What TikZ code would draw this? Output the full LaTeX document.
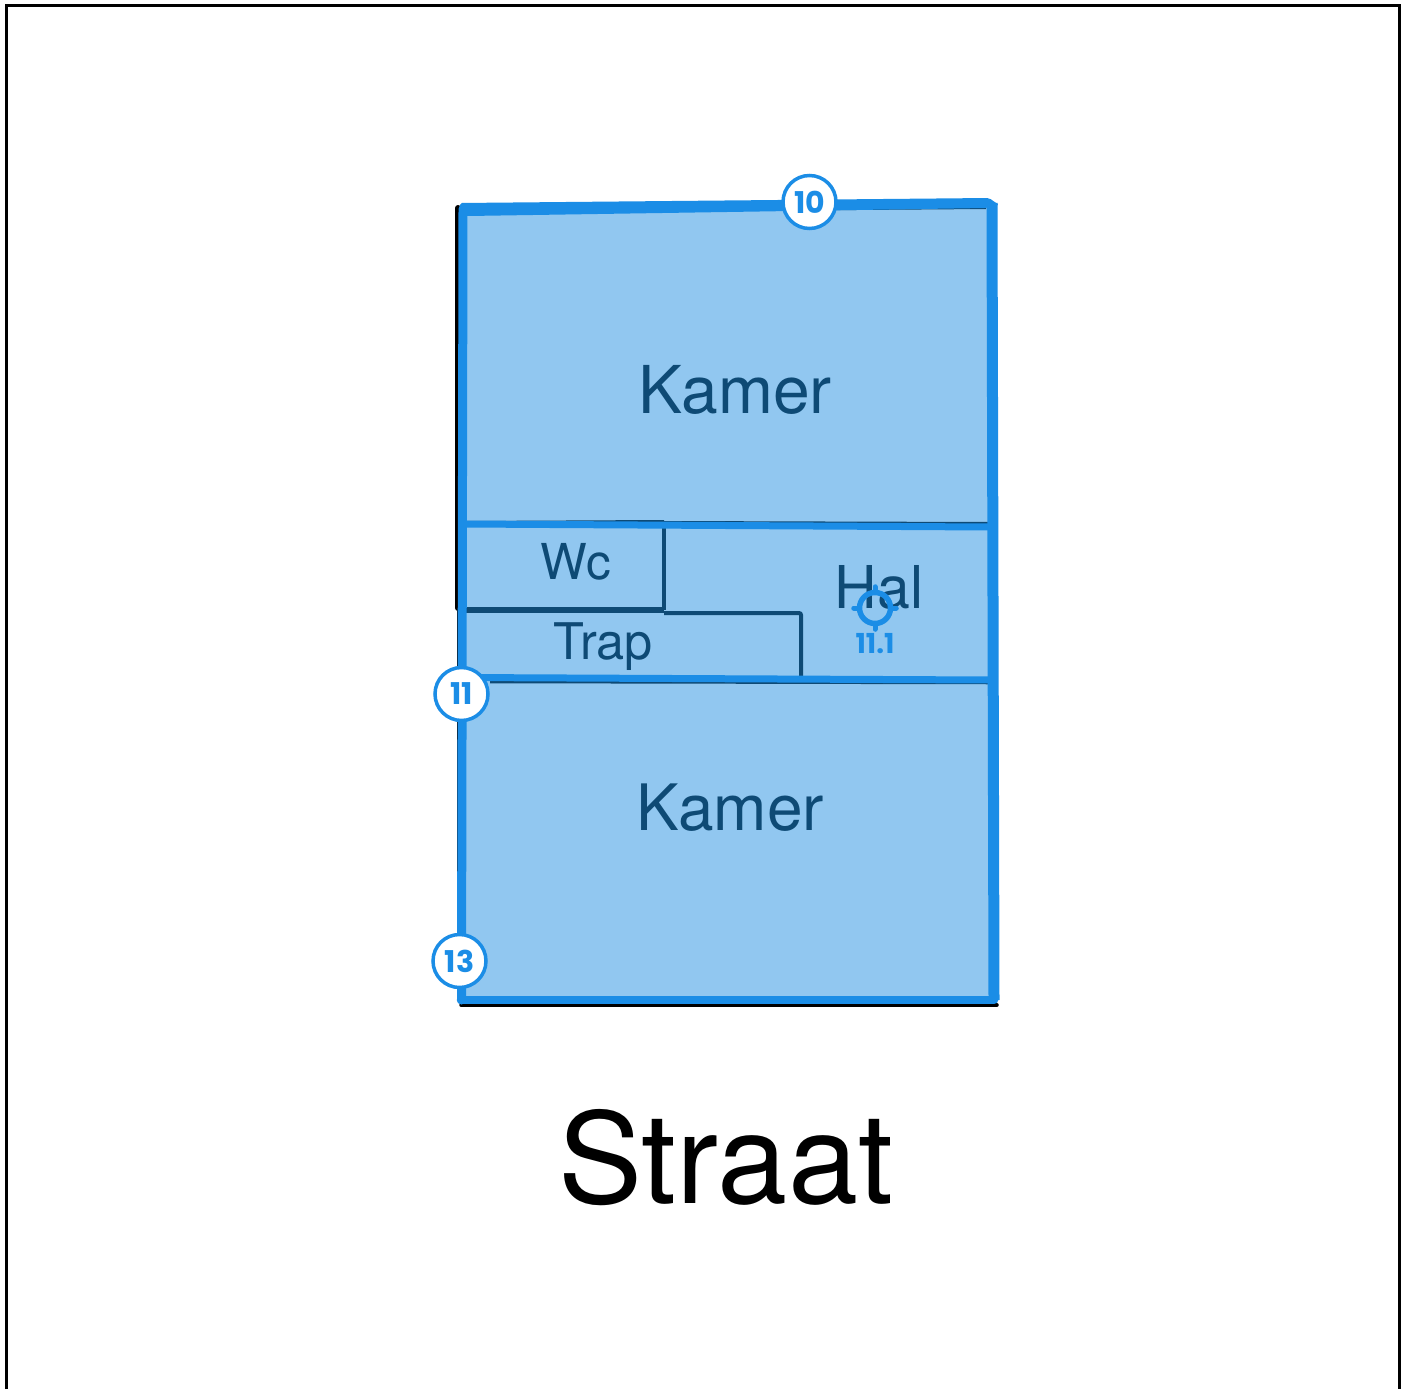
\documentclass[tikz,border=0pt]{standalone}
\usepackage{fontspec}
\setmainfont{TeX Gyre Heros}
\newfontfamily\badgefont{Poppins}
\definecolor{roomfill}{HTML}{91C7F0}
\definecolor{wallblue}{HTML}{1B8DE6}
\definecolor{walldark}{HTML}{0E4A75}
\newcommand{\fsz}[1]{\fontsize{#1}{#1}\selectfont}
\tikzset{
  frameline/.style={draw=black,line width=3pt},
  inkline/.style={draw=black,line width=6pt,line cap=round},
  innerwall/.style={draw=wallblue,line width=7pt},
  darkwall/.style={draw=walldark,line width=4.5pt},
  roomtext/.style={text=walldark,inner sep=0pt,anchor=base},
  badge/.style={circle,draw=wallblue,fill=white,line width=3.5pt,minimum size=53pt,inner sep=0pt,text=wallblue,font=\badgefont\bfseries\fsz{30}},
}
\begin{document}
\begin{tikzpicture}[x=1pt,y=-1pt]
\useasboundingbox (0,0) rectangle (1405,1389);
\fill[white] (0,0) rectangle (1405,1389);
% frame
\draw[frameline] (6.5,1389) -- (6.5,5.5) -- (1399.5,5.5) -- (1399.5,1389);
% pencil lines under the overlay
\draw[inkline] (458,208) -- (458,608);
\draw[draw=black,line width=3pt] (458.5,608) -- (458.5,1000);
\draw[draw=black,line width=3.5pt,line cap=round] (461,1005) -- (997,1005);
% rooms
\coordinate (tl) at (463,209);
\coordinate (tr) at (992,203);
\coordinate (br) at (994,1000);
\coordinate (bl) at (461,1000);
\fill[roomfill] (tl) -- (tr) -- (br) -- (bl) -- cycle;
% dark partitions
\coordinate (wcl) at (465,610);
\coordinate (wcr) at (664,610);
\coordinate (wct) at (664,524);
\coordinate (trapm) at (801,613);
\coordinate (trapb) at (801,677);
\draw[draw=walldark,line width=6.5pt] (wcl) -- (wcr);
\draw[darkwall] (wct) -- (wcr);
\draw[draw=walldark,line width=4pt,rounded corners=2pt] (wcr |- trapm) -- (trapm) -- (trapb);
\draw[draw=walldark,line width=2.5pt] (490,682) -- (990,683);
\draw[draw=walldark,line width=2pt] (664,522) -- (990,523);
\draw[draw=walldark,line width=2pt] (466,522) -- (664,521);
\draw[draw=walldark,line width=2pt] (466,212) -- (986,208);
% blue walls
\draw[innerwall] (463,524) -- (990,527);
\draw[innerwall] (463,677.5) -- (990,680);
\draw[draw=wallblue,line width=9pt,line cap=round] (463,209) -- (461.5,1000);
\draw[draw=wallblue,line width=8.5pt,line cap=round] (461,1000) -- (994,1000);
\draw[draw=wallblue,line width=11pt] (992,203) -- (994,1000);
\fill[wallblue,rounded corners=2pt] (460,203) -- (989,198) -- (999,205) -- (986,208) -- (468,216) -- (459,216) -- cycle;
% labels
\node[roomtext] (kamer1) at (735,413.5) {\fsz{66}Kamer};
\node[roomtext] (kamer2) at (730,830) {\fsz{64}Kamer};
\node[roomtext] (wc) at (576,579) {\fsz{49.5}Wc};
\node[roomtext] (trap) at (603.5,659.5) {\fsz{50.5}Trap};
\node[roomtext] (hal) at (879,608) {\fsz{59}Hal};
\node[inner sep=0pt,anchor=base,text=black] (straat) at (725.5,1203) {\fsz{126}Straat};
% crosshair
\node[circle,draw=wallblue,line width=5.5pt,minimum size=31pt,inner sep=0pt] (aim) at (875,608) {};
\draw[draw=wallblue,line width=5pt,line cap=round] (aim.north) -- ++(0,-3);
\draw[draw=wallblue,line width=5pt,line cap=round] (aim.south) -- ++(0,3);
\draw[draw=wallblue,line width=5pt,line cap=round] (aim.west) -- ++(-3,0);
\draw[draw=wallblue,line width=5pt,line cap=round] (aim.east) -- ++(3,0);
\node[inner sep=0pt,text=wallblue,font=\badgefont\bfseries\fsz{27.5}] (aimlabel) at (875,644) {11.1};
% badges
\node[badge] (b10) at (809.5,202) {10};
\node[badge] (b11) at (461.5,694) {11};
\node[badge] (b13) at (459.5,961) {13};
\end{tikzpicture}
\end{document}
